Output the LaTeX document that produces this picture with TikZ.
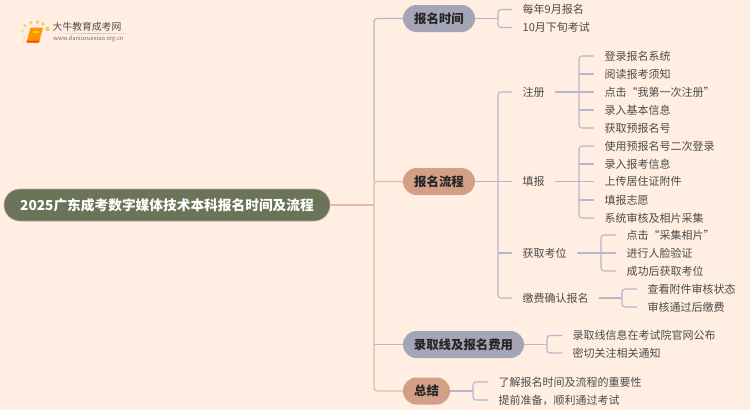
\documentclass[tikz,border=0pt]{standalone}
\usepackage{fontspec}
\setmainfont{Noto Sans CJK SC}
\usepackage{tikz}
\usetikzlibrary{calc}
\definecolor{MAPcream}{RGB}{255,238,225}
\definecolor{MAProot}{RGB}{107,115,88}
\definecolor{MAProotedge}{RGB}{175,175,150}
\definecolor{MAPgrey}{RGB}{165,165,184}
\definecolor{MAPclay}{RGB}{211,160,135}
\definecolor{MAPline}{RGB}{182,182,206}
\definecolor{MAPlineclay}{RGB}{229,187,165}
\definecolor{MAPtext}{RGB}{75,75,75}
\definecolor{MAPgold}{RGB}{250,200,90}
\tikzset{
    rootbox/.style={fill=MAProot, draw=MAProotedge, line width=0.6pt, rounded corners=16pt, minimum width=326pt, minimum height=32pt, inner sep=0pt, text=white, font=\fontsize{13.7}{16}\selectfont\bfseries},
    branchbox/.style={rounded corners=13.5pt, minimum height=27pt, inner sep=0pt, text=black!85, font=\fontsize{12.4}{14}\selectfont\bfseries},
    leaf/.style={anchor=west, inner xsep=10.5pt, inner ysep=0pt, text height=9.7pt, text depth=1.3pt, text=MAPtext, font=\fontsize{11}{13}\selectfont},
    link/.style={draw=MAPline, line width=1.1pt, rounded corners=3pt},
    linkclay/.style={draw=MAPlineclay, line width=1.4pt, rounded corners=3pt},
    linktrunk/.style={draw=MAPline, line width=1.4pt, rounded corners=3pt},
    spark/.style={fill=MAPgold, circle, inner sep=0pt}
}
\begin{document}
\begin{tikzpicture}[x=1pt,y=-1pt]
    \fill[MAPcream] (0,0) rectangle (750,410);
    \useasboundingbox (0,0) rectangle (750,410);

    % logo
    \foreach \px/\py/\ps in {22.5/31/2.4, 25/25.7/3, 24/37/2, 23.5/42/1.5, 31/22.5/3.4, 37.5/22/3.6, 43/24/3.6, 47.5/29/4.2}
        \node[spark, minimum size=\ps pt] at (\px,\py) {};
    \fill[orange!85!yellow, rounded corners=1pt] (30.5,27.5) -- (43,27.5) -- (39,42.5) -- (26.5,42.5) -- cycle;
    \fill[orange!60!red] (26.5,42.5) -- (39,42.5) -- (39.5,40.5) -- (27,40.5) -- cycle;
    \fill[yellow!65!orange] (33,31) -- (39.5,31) -- (39,33) -- (32.5,33) -- cycle;
    \node[inner sep=0pt, text=black!70, font=\fontsize{9.8}{11}\selectfont] (brand) at (87,27) {大牛教育成考网};
    \node[inner sep=0pt, text=black!55, font=\fontsize{5.8}{7}\selectfont] (site) at (88.5,39) {www.daniuxuexiao.org.cn};
    \shade[left color=MAPcream, right color=MAPcream, middle color=black!25] (52,33.2) rectangle (134,33.9);

    % root and branches
    \node[rootbox] (root) at (167,205) {2025广东成考数字媒体技术本科报名时间及流程};
    \node[branchbox, fill=MAPgrey, minimum width=72pt] (time) at (439,18.5) {报名时间};
    \node[branchbox, fill=MAPclay, minimum width=72pt] (flow) at (439,181.5) {报名流程};
    \node[branchbox, fill=MAPgrey, minimum width=121pt] (fee) at (463.5,344.5) {录取线及报名费用};
    \node[branchbox, fill=MAPclay, minimum width=47pt] (sum) at (426.5,391) {总结};

    \coordinate (hub) at (374,205);
    \draw[linktrunk] (time.west) -| (flow.west -| hub);
    \draw[link] (fee.west) -- (fee.west -| hub);
    \draw[linkclay] (root.east) -- (hub);
    \draw[linkclay] (flow.west) -| (hub) |- (sum.west);

    % time
    \node[leaf] (t1) at (512,9.5) {每年9月报名};
    \node[leaf] (t2) at (512,27.5) {10月下旬考试};
    \coordinate (tj) at (498,18.5);
    \draw[link] (time.east) -- (tj);
    \draw[link] (t1.west) -| (tj) |- (t2.west);

    % flow
    \node[leaf] (reg) at (512,92) {注册};
    \node[leaf] (fill) at (512,181.5) {填报};
    \node[leaf] (seat) at (512,253) {获取考位};
    \node[leaf] (pay) at (512,298) {缴费确认报名};
    \coordinate (fj) at (498,181.5);
    \draw[link] (flow.east) -- (fill.west);
    \draw[link] (reg.west) -| (fj) |- (pay.west);
    \draw[link] (seat.west -| fj) -- (seat.west);

    % register
    \node[leaf] (r1) at (594,56) {登录报名系统};
    \node[leaf] (r2) at (594,74) {阅读报考须知};
    \node[leaf] (r3) at (594,92) {点击“我第一次注册”};
    \node[leaf] (r4) at (594,110) {录入基本信息};
    \node[leaf] (r5) at (594,128) {获取预报名号};
    \coordinate (rj) at (579,92);
    \draw[link] (reg.east) -- (r3.west);
    \draw[link] (r1.west) -| (rj) |- (r5.west);
    \foreach \n in {r2,r4}
        \draw[link] (\n.west -| rj) -- (\n.west);

    % fill in
    \node[leaf] (f1) at (594,146) {使用预报名号二次登录};
    \node[leaf] (f2) at (594,164) {录入报考信息};
    \node[leaf] (f3) at (594,181.5) {上传居住证附件};
    \node[leaf] (f4) at (594,200) {填报志愿};
    \node[leaf] (f5) at (594,218) {系统审核及相片采集};
    \coordinate (fk) at (579,181.5);
    \draw[link] (fill.east) -- (f3.west);
    \draw[link] (f1.west) -| (fk) |- (f5.west);
    \foreach \n in {f2,f4}
        \draw[link] (\n.west -| fk) -- (\n.west);

    % seat
    \node[leaf] (s1) at (616,235) {点击“采集相片”};
    \node[leaf] (s2) at (616,253) {进行人脸验证};
    \node[leaf] (s3) at (616,271) {成功后获取考位};
    \coordinate (sj) at (601,253);
    \draw[link] (seat.east) -- (s2.west);
    \draw[link] (s1.west) -| (sj) |- (s3.west);

    % pay
    \node[leaf] (p1) at (637,289) {查看附件审核状态};
    \node[leaf] (p2) at (637,307) {审核通过后缴费};
    \coordinate (pj) at (622,298);
    \draw[link] (pay.east) -- (pj);
    \draw[link] (p1.west) -| (pj) |- (p2.west);

    % fee
    \node[leaf] (c1) at (562,335.5) {录取线信息在考试院官网公布};
    \node[leaf] (c2) at (562,353) {密切关注相关通知};
    \coordinate (cj) at (547,344.5);
    \draw[link] (fee.east) -- (cj);
    \draw[link] (c1.west) -| (cj) |- (c2.west);

    % summary
    \node[leaf] (e1) at (488,382) {了解报名时间及流程的重要性};
    \node[leaf] (e2) at (488,400) {提前准备，顺利通过考试};
    \coordinate (ej) at (473,391);
    \draw[link] (sum.east) -- (ej);
    \draw[link] (e1.west) -| (ej) |- (e2.west);
\end{tikzpicture}
\end{document}
